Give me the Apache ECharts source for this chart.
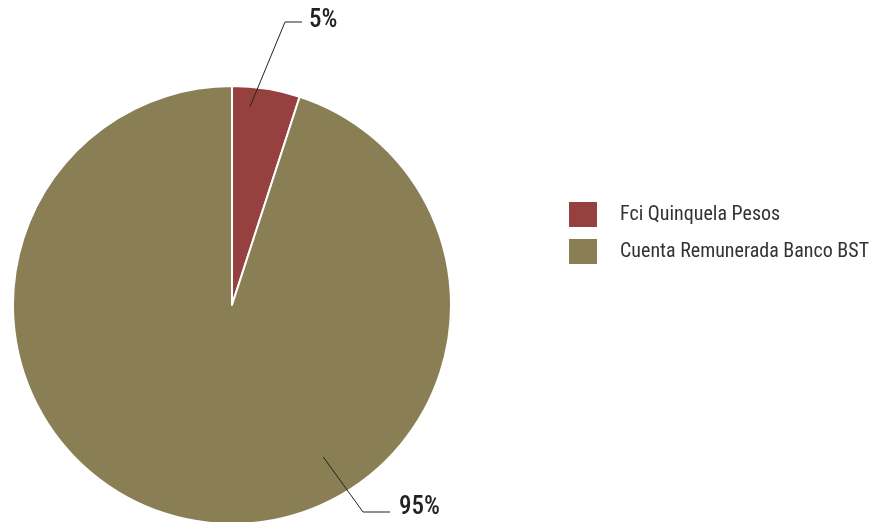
<!DOCTYPE html>
<html><head><meta charset="utf-8">
<script src="https://cdn.jsdelivr.net/npm/echarts@6/dist/echarts.min.js"></script>
<style>html,body{margin:0;padding:0;background:#fff}#c{width:883px;height:522px}</style>
</head><body><div id="c"></div>
<script>
var categories = ['Fci Quinquela Pesos', 'Cuenta Remunerada Banco BST'];
var values = [5, 95];
var colors = ['#964140', '#897e54'];

var FONT = 'Roboto Condensed, sans-serif';
var cx = 232, cy = 305, R = 219;

// label placement (anchor angle in degrees clockwise from top, radial fraction, elbow, end, text pos)
var labelSpec = [
  { ang: 5.2, frac: 0.91, elbow: [285, 22], end: [302, 22], text: [309, 21] },
  { ang: 149, frac: 0.81, elbow: [363, 512], end: [390, 512], text: [399, 508] }
];

var data = categories.map(function (n, i) { return { name: n, value: values[i] }; });

var chart = echarts.init(document.getElementById('c'), null, {renderer: 'canvas'});
chart.setOption({
  animation: false,
  backgroundColor: '#ffffff',
  color: colors,
  legend: {
    orient: 'vertical',
    left: 569, top: 202,
    padding: 0,
    icon: 'rect',
    itemWidth: 28, itemHeight: 25,
    itemGap: 12,
    itemStyle: { borderWidth: 0 },
    data: categories,
    textStyle: { fontFamily: FONT, fontSize: 20, color: '#333', padding: [0, 0, 0, 18] }
  },
  series: [{
    type: 'pie',
    center: [cx, cy],
    radius: R,
    startAngle: 90,
    clockwise: true,
    z: 1,
    itemStyle: { borderColor: '#fff', borderWidth: 2 },
    label: { show: false },
    labelLine: { show: false },
    emphasis: { disabled: true },
    data: data
  }, {
    type: 'pie',
    center: [cx, cy],
    radius: R,
    startAngle: 90,
    clockwise: true,
    z: 5,
    silent: true,
    legendHoverLink: false,
    itemStyle: { color: 'rgba(0,0,0,0)', borderWidth: 0 },
    label: {
      show: true, position: 'outside',
      formatter: '{c}%',
      fontFamily: FONT, fontSize: 25, fontWeight: 500, color: '#222'
    },
    labelLine: { show: true, lineStyle: { color: '#222', width: 1 } },
    labelLayout: function (p) {
      var s = labelSpec[p.dataIndex];
      var a = s.ang * Math.PI / 180;
      var start = [cx + R * s.frac * Math.sin(a), cy - R * s.frac * Math.cos(a)];
      return {
        x: s.text[0], y: s.text[1],
        align: 'left', verticalAlign: 'middle',
        labelLinePoints: [start, s.elbow, s.end]
      };
    },
    data: data
  }]
});
</script></body></html>
